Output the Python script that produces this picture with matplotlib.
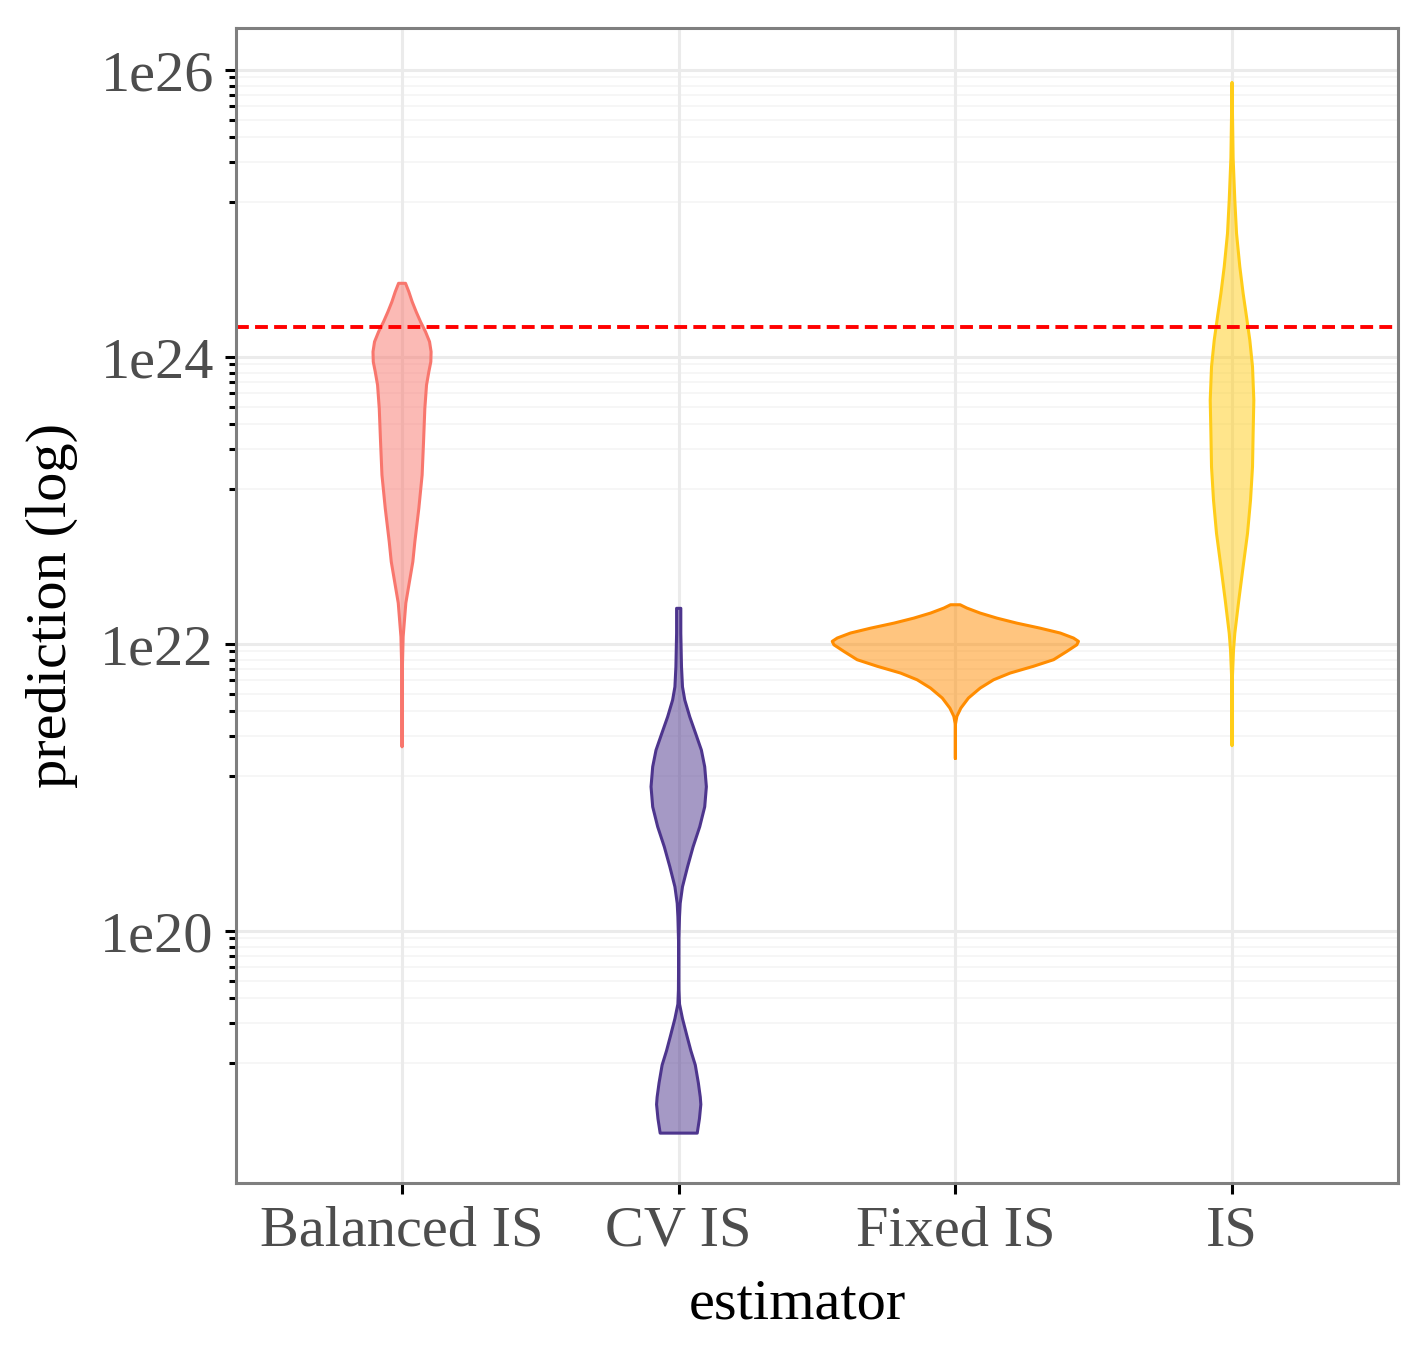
import numpy as np
import matplotlib
matplotlib.use('Agg')
import matplotlib.pyplot as plt

plt.rcParams['font.family'] = ['Liberation Serif', 'DejaVu Serif']

estimators = ['Balanced IS', 'CV IS', 'Fixed IS', 'IS']
colors = ['#F8766D', '#4D358D', '#FF8C00', '#FFCD19']
true_value = 1.62e24

# violin outlines: log10(prediction) and half width (x units)
balanced_log = [24.514, 24.455, 24.386, 24.316, 24.246, 24.176, 24.107, 24.037,
                23.967, 23.898, 23.805, 23.643, 23.410, 23.178, 22.946, 22.713,
                22.574, 22.286, 22.051, 21.819, 21.284]
balanced_hw = [0.0126, 0.0246, 0.0365, 0.051, 0.0669, 0.0849, 0.0994, 0.105,
               0.104, 0.0969, 0.0885, 0.0824, 0.0777, 0.0726, 0.0607, 0.0463,
               0.039, 0.0137, 0.004, 0.001, 0.0]

cv_log = [22.249, 22.075, 21.842, 21.702, 21.610, 21.493, 21.378, 21.261, 21.145,
          21.006, 20.866, 20.727, 20.587, 20.448, 20.309, 20.193, 20.100, 19.889,
          19.589, 19.491, 19.390, 19.268, 19.166, 19.066, 18.942, 18.843, 18.792,
          18.693, 18.592]
cv_hw = [0.0076, 0.0076, 0.0101, 0.0137, 0.022, 0.040, 0.061, 0.082, 0.094,
         0.100, 0.094, 0.076, 0.052, 0.032, 0.0137, 0.0054, 0.0029, 0.0,
         0.001, 0.003, 0.0137, 0.030, 0.044, 0.060, 0.071, 0.078, 0.080,
         0.075, 0.067]

fixed_log = [22.274, 22.251, 22.216, 22.181, 22.146, 22.111, 22.077, 22.042, 22.019,
             21.995, 21.949, 21.891, 21.845, 21.798, 21.751, 21.693, 21.624, 21.554,
             21.496, 21.438, 21.203]
fixed_hw = [0.0173, 0.0416, 0.0896, 0.150, 0.222, 0.306, 0.379, 0.427, 0.445,
            0.439, 0.403, 0.355, 0.282, 0.198, 0.138, 0.0896, 0.0473, 0.0199,
            0.0054, 0.0, 0.0]

is_log = [25.914, 25.387, 25.094, 24.862, 24.629, 24.444, 24.281, 24.118, 23.932,
          23.700, 23.468, 23.236, 23.003, 22.771, 22.539, 22.307, 22.075, 21.958,
          21.750, 21.292]
is_hw = [0.0, 0.004, 0.0101, 0.0163, 0.0282, 0.0401, 0.0524, 0.0643, 0.0741,
         0.0788, 0.0763, 0.0741, 0.0669, 0.056, 0.0401, 0.0246, 0.0101, 0.0054,
         0.001, 0.0]

violins = [(balanced_log, balanced_hw), (cv_log, cv_hw),
           (fixed_log, fixed_hw), (is_log, is_hw)]

major_breaks = [1e20, 1e22, 1e24, 1e26]

fig = plt.figure(figsize=(7.14, 6.8), dpi=200)
ax = fig.add_axes([0.1653, 0.1301, 0.8137, 0.8493])

for i, (lg, hw) in enumerate(violins):
    pos = i + 1
    y = 10 ** np.array(lg)
    hw = np.array(hw)
    xs = np.concatenate([pos + hw, (pos - hw)[::-1]])
    ys = np.concatenate([y, y[::-1]])
    ax.fill(xs, ys, facecolor=colors[i], alpha=0.5, edgecolor='none', zorder=3)
    ax.fill(xs, ys, facecolor='none', edgecolor=colors[i], lw=1.1,
            joinstyle='round', zorder=4)

ax.axhline(true_value, color='red', lw=1.4, dashes=(3.3, 1.6), zorder=5)

ax.set_yscale('log')
ax.set_xlim(0.4, 4.6)
ax.set_ylim(10 ** 18.244, 10 ** 26.293)

# minor breaks spaced evenly between the major ones
minor = []
for a in [1e18] + major_breaks[:-1]:
    b = a * 100
    minor += [a + k * (b - a) / 9 for k in range(1, 9)]

ax.set_yticks(major_breaks)
ax.set_yticklabels(['1e20', '1e22', '1e24', '1e26'])
ax.set_yticks(minor, minor=True)
ax.yaxis.set_minor_formatter(plt.NullFormatter())
ax.set_xticks(range(1, 5))
ax.set_xticklabels(estimators)

for m in minor:
    ax.axhline(m, color='#F6F6F6', lw=0.7, zorder=1)
for m in major_breaks:
    ax.axhline(m, color='#EBEBEB', lw=1.1, zorder=1)
for p in range(1, 5):
    ax.axvline(p, color='#EBEBEB', lw=1.1, zorder=1)

ax.tick_params(axis='both', which='major', length=4, width=1.1, color='black',
               labelsize=21, labelcolor='#4D4D4D', pad=4)
ax.tick_params(axis='y', which='minor', length=2.5, width=1.1, color='black')

for s in ax.spines.values():
    s.set_color('#7F7F7F')
    s.set_linewidth(1.1)
    s.set_zorder(6)

ax.set_xlabel('estimator', fontsize=21, color='black')
ax.xaxis.set_label_coords(0.483, -0.083)
ax.set_ylabel('prediction (log)', fontsize=21, color='black', labelpad=8)

fig.savefig('out.png', dpi=200)
